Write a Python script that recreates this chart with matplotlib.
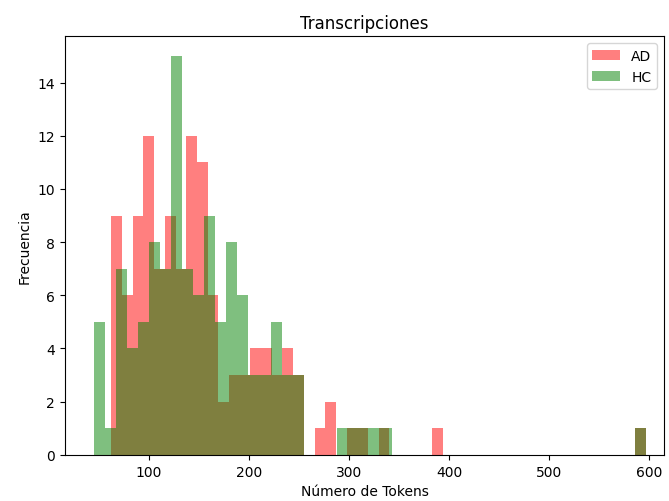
import numpy as np
import matplotlib
matplotlib.use('Agg')
import matplotlib.pyplot as plt

# Histogram counts (50 bins per group)
ad_min, ad_max = 62.5, 597.0
hc_min, hc_max = 45.0, 597.0

ad_counts = [9, 6, 9, 12, 7, 9, 7, 12, 11, 6,
             2, 3, 3, 4, 4, 3, 4, 3, 0, 1,
             2, 0, 1, 1, 0, 1, 0, 0, 0, 0,
             1, 0, 0, 0, 0, 0, 0, 0, 0, 0,
             0, 0, 0, 0, 0, 0, 0, 0, 0, 1]

hc_counts = [5, 1, 7, 4, 5, 8, 7, 15, 7, 6,
             9, 5, 8, 6, 3, 3, 5, 3, 3, 0,
             0, 0, 1, 1, 1, 1, 1, 0, 0, 0,
             0, 0, 0, 0, 0, 0, 0, 0, 0, 0,
             0, 0, 0, 0, 0, 0, 0, 0, 0, 1]

ad_edges = np.linspace(ad_min, ad_max, len(ad_counts) + 1)
hc_edges = np.linspace(hc_min, hc_max, len(hc_counts) + 1)

fig, ax = plt.subplots(figsize=(6.69, 5.02), dpi=100)
fig.subplots_adjust(left=0.097, right=0.9925, top=0.926, bottom=0.092)

ax.hist(ad_edges[:-1], bins=ad_edges, weights=ad_counts, color='red', alpha=0.5, label='AD')
ax.hist(hc_edges[:-1], bins=hc_edges, weights=hc_counts, color='green', alpha=0.5, label='HC')

ax.set_xlim(16, 615)
ax.set_title('Transcripciones')
ax.set_xlabel('Número de Tokens')
ax.set_ylabel('Frecuencia')
ax.legend(loc='upper right')

fig.savefig('out.png', dpi=100)
